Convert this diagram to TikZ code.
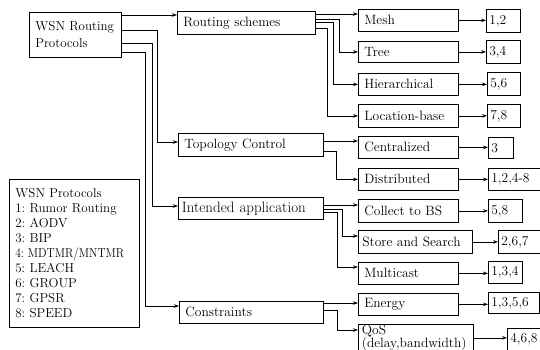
\documentclass[tikz,border=0pt]{standalone}
\usepackage{fontspec}
\usepackage{graphicx}
\usetikzlibrary{arrows.meta,calc}
\frenchspacing
\begin{document}
\frenchspacing
\begin{tikzpicture}[x=1pt,y=-1pt,
  bx/.style={draw, line width=0.7pt, anchor=north west, inner xsep=5pt, inner ysep=0pt, align=left, font=\fontsize{13.5}{16}\selectfont},
  nb/.style={bx, inner xsep=3pt},
  arr/.style={line width=0.7pt, -{Stealth[length=5pt,width=3.5pt]}}]
\useasboundingbox (0,0) rectangle (540,349);
\clip (0,0) rectangle (540,349);
% root
\node[bx, minimum width=92pt, minimum height=45pt, text width=80pt, inner xsep=6pt, font=\fontsize{13}{17}\selectfont] (root) at (29,12) {WSN Routing\\Protocols};
% level 1
\node[bx, minimum width=138pt, minimum height=23pt, text width=126pt, inner xsep=6pt] (RS) at (177,11) {Routing schemes};
\node[bx, minimum width=145pt, minimum height=23pt, text width=133pt, inner xsep=6pt] (TC) at (178,133) {Topology Control};
\node[bx, minimum width=145pt, minimum height=22pt, text width=138pt, inner xsep=3.5pt, font=\fontsize{15}{18}\selectfont] (IA) at (178,197) {Intended application};
\node[bx, minimum width=144pt, minimum height=22pt, text width=132pt, inner xsep=6pt] (Con) at (179,301) {Constraints};
% level 2
\node[bx, minimum width=100pt, minimum height=22pt, text width=88pt, inner xsep=6pt] (Mesh) at (358,9) {Mesh};
\node[bx, minimum width=100pt, minimum height=21pt, text width=88pt, inner xsep=6pt] (Tree) at (358,41) {Tree};
\node[bx, minimum width=100pt, minimum height=22pt, text width=88pt, inner xsep=6pt] (Hier) at (358,73) {Hierarchical};
\node[bx, minimum width=100pt, minimum height=23pt, text width=88pt, inner xsep=6pt] (Loc) at (358,104) {Location-base};
\node[bx, minimum width=100pt, minimum height=22pt, text width=88pt, inner xsep=6pt] (Cent) at (358,136) {Centralized};
\node[bx, minimum width=100pt, minimum height=22pt, text width=88pt, inner xsep=6pt] (Dist) at (358,168) {Distributed};
\node[bx, minimum width=100pt, minimum height=23pt, text width=88pt, inner xsep=6pt] (Coll) at (358,199) {Collect to BS};
\node[bx, minimum width=114pt, minimum height=23pt, text width=106pt, inner xsep=4pt] (Store) at (358,230) {Store and Search};
\node[bx, minimum width=100pt, minimum height=22pt, text width=88pt, inner xsep=6pt] (Multi) at (358,262) {Multicast};
\node[bx, minimum width=100pt, minimum height=22pt, text width=88pt, inner xsep=6pt] (Energy) at (358,293) {Energy};
\node[bx, minimum width=115pt, minimum height=27pt, text width=108pt, inner xsep=3.5pt, font=\fontsize{13.5}{12}\selectfont] (QoS) at (358,324) {QoS\\(delay,bandwidth)};
% number boxes
\node[nb, minimum width=34pt, minimum height=23pt, text width=28pt] (n1) at (486,9) {1,2};
\node[nb, minimum width=34pt, minimum height=23pt, text width=28pt] (n2) at (486,40) {3,4};
\node[nb, minimum width=33pt, minimum height=23pt, text width=27pt] (n3) at (487,72) {5,6};
\node[nb, minimum width=33pt, minimum height=23pt, text width=27pt] (n4) at (487,104) {7,8};
\node[nb, minimum width=25pt, minimum height=21pt, text width=19pt] (n5) at (488,137) {3};
\node[nb, minimum width=60pt, minimum height=22pt, text width=54pt] (n6) at (488,168) {1,2,4-8};
\node[nb, minimum width=34pt, minimum height=23pt, text width=28pt] (n7) at (488,199) {5,8};
\node[nb, minimum width=50pt, minimum height=23pt, text width=44pt] (n8) at (498,230) {2,6,7};
\node[nb, minimum width=34pt, minimum height=22pt, text width=28pt] (n9) at (488,261) {1,3,4};
\node[nb, minimum width=51pt, minimum height=21pt, text width=45pt] (n10) at (488,292) {1,3,5,6};
\node[nb, minimum width=45pt, minimum height=22pt, text width=39pt] (n11) at (507,328) {4,6,8};
% legend
\node[bx, minimum width=130pt, minimum height=148pt, text width=118pt, inner xsep=6pt, font=\fontsize{13}{15}\selectfont] (leg) at (9,179)
 {WSN Protocols\\1: Rumor Routing\\2: AODV\\3: BIP\\\scalebox{0.88}[1]{4: MDTMR/MNTMR}\\5: LEACH\\6: GROUP\\7: GPSR\\8: SPEED};
% root connectors
\draw[arr] ($(root.north east)+(0,3)$) -- ($(RS.north west)+(0,4)$);
\draw[arr] ($(root.north east)+(0,18)$) -| ($(TC.north west)+(-21,9)$) -- ($(TC.north west)+(0,9)$);
\draw[arr] ($(root.north east)+(0,31)$) -| ($(IA.north west)+(-26,9)$) -- ($(IA.north west)+(0,9)$);
\draw[arr] ($(root.north east)+(0,40)$) -| ($(Con.north west)+(-34,5)$) -- ($(Con.north west)+(0,5)$);
% routing schemes
\draw[arr] ($(RS.north east)+(0,3)$) -- ($(Mesh.north west)+(0,5)$);
\draw[arr] ($(RS.north east)+(0,8)$) -| ($(Tree.west)+(-19,0)$) -- (Tree.west);
\draw[arr] ($(RS.north east)+(0,11)$) -| ($(Hier.west)+(-25,0)$) -- (Hier.west);
\draw[arr] ($(RS.north east)+(0,17)$) -| ($(Loc.west)+(-31,0)$) -- (Loc.west);
% topology control
\draw[arr] ($(TC.north east)+(0,8)$) -- ($(Cent.north west)+(0,5)$);
\draw[arr] ($(TC.north east)+(0,18)$) -| ($(Dist.west)+(-22,0)$) -- (Dist.west);
% intended application
\draw[arr] ($(IA.north east)+(0,8)$) -- ($(Coll.north west)+(0,6)$);
\draw[arr] ($(IA.north east)+(0,12)$) -| ($(Store.north west)+(-16,6)$) -- ($(Store.north west)+(0,6)$);
\draw[arr] ($(IA.north east)+(0,15)$) -| ($(Multi.north west)+(-21,5)$) -- ($(Multi.north west)+(0,5)$);
% constraints
\draw[arr] ($(Con.north east)+(0,2)$) -- ($(Energy.north west)+(0,10)$);
\draw[arr] ($(Con.north east)+(0,9)$) -| ($(QoS.north west)+(-21,6)$) -- ($(QoS.north west)+(0,6)$);
% numbers
\draw[arr] (Mesh.east) -- (n1.west |- Mesh.east);
\draw[arr] (Tree.east) -- (n2.west |- Tree.east);
\draw[arr] (Hier.east) -- (n3.west |- Hier.east);
\draw[arr] (Loc.east) -- (n4.west |- Loc.east);
\draw[arr] (Cent.east) -- (n5.west |- Cent.east);
\draw[arr] (Dist.east) -- (n6.west |- Dist.east);
\draw[arr] (Coll.east) -- (n7.west |- Coll.east);
\draw[arr] (Store.east) -- (n8.west |- Store.east);
\draw[arr] (Multi.east) -- (n9.west |- Multi.east);
\draw[arr] (Energy.east) -- (n10.west |- Energy.east);
\draw[arr] (QoS.east) -- (n11.west |- QoS.east);
\end{tikzpicture}
\end{document}
